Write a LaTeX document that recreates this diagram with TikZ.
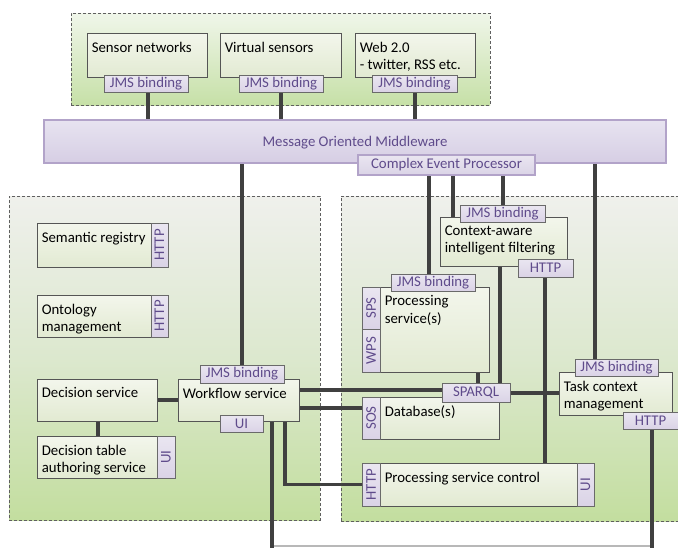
\documentclass[tikz,border=0pt]{standalone}
\usepackage{fontspec}
\setmainfont{Carlito}
\usetikzlibrary{fit}
\definecolor{grpB}{HTML}{C3DE9F}
\definecolor{grpM}{HTML}{DCE8CE}
\definecolor{grpT}{HTML}{EFF0EC}
\definecolor{topT}{HTML}{F0F6EA}
\definecolor{topB}{HTML}{C6E0A7}
\definecolor{gborder}{HTML}{5F5F5F}
\definecolor{bxT}{HTML}{F3F6EC}
\definecolor{bxB}{HTML}{E2EAD2}
\definecolor{bxD}{HTML}{555555}
\definecolor{tbT}{HTML}{EAE6F1}
\definecolor{tbB}{HTML}{DAD3E6}
\definecolor{tbD}{HTML}{6A6A6A}
\definecolor{purp}{HTML}{5F4B8B}
\definecolor{momT}{HTML}{E7E3F0}
\definecolor{momB}{HTML}{D6CEE4}
\definecolor{momD}{HTML}{B2A3C9}
\definecolor{cn}{HTML}{404040}
\definecolor{thin}{HTML}{B8B8B8}

\pgfdeclarelayer{grplayer}
\pgfdeclarelayer{linelayer}
\pgfsetlayers{grplayer,linelayer,main}

\newcommand\plainbox[6]{\node[boxst, fit={(#2,#3) (#4,#5)}] (#1) {};
  \node[txtst] (#1-t) at ([xshift=5pt,yshift=-9pt]#1.north west) {#6};}
\newcommand\tabbox[6]{\node[tabst, fit={(#2,#3) (#4,#5)}] (#1) {};
  \node[text=purp, inner sep=0pt] (#1-t) at (#1.center) {#6};}
\newcommand\vtabbox[6]{\node[tabst, fit={(#2,#3) (#4,#5)}] (#1) {};
  \node[rotate=90, text=purp, inner sep=0pt] (#1-t) at (#1.center) {#6};}

\begin{document}
\begin{tikzpicture}[x=1pt,y=-1pt,
  font=\fontsize{14.8}{17.5}\selectfont,
  grpst/.style={draw=gborder, dash pattern=on 3pt off 2pt, line width=0.8pt, inner sep=0pt, top color=grpT, bottom color=grpB, middle color=grpM},
  topgrp/.style={draw=gborder, dash pattern=on 3pt off 2pt, line width=0.8pt, inner sep=0pt, top color=topT, bottom color=topB},
  boxst/.style={draw=bxD, line width=0.8pt, inner sep=0pt, top color=bxT, bottom color=bxB},
  tabst/.style={draw=tbD, line width=0.8pt, inner sep=0pt, top color=tbT, bottom color=tbB},
  txtst/.style={anchor=north west, inner sep=0pt, align=left, text=black},
  conn/.style={draw=cn, line width=3.4pt},
  thinline/.style={draw=thin, line width=1.3pt}]
\useasboundingbox (0,0) rectangle (678,547);
\clip (0,0) rectangle (678,547);

% groups
\begin{pgfonlayer}{grplayer}
\node[topgrp, fit={(71,13) (490,105)}] (tg) {};
\node[grpst, fit={(9,196) (320,520)}] (lg) {};
\node[grpst, fit={(341,196) (690,521)}] (rg) {};
\end{pgfonlayer}

% middleware
\node[draw=momD, line width=1.2pt, top color=momT, bottom color=momB, inner sep=0pt, fit={(44,120) (666,163)}] (mom) {};
\node[text=purp, inner sep=0pt] (mom-t) at ([yshift=-1pt]mom.center) {Message Oriented Middleware};
\node[draw=momD, line width=1.2pt, top color=tbT, bottom color=tbB, inner sep=0pt, fit={(358,155) (535,175)}] (cep) {};
\node[text=purp, inner sep=0pt] (cep-t) at (cep.center) {Complex Event Processor};

% free ends
\coordinate (bl) at (272,552);
\coordinate (br) at (652,552);
\coordinate (gl) at (272,546);
\coordinate (gr) at (652,546);

% top boxes
\plainbox{sn}{87}{33}{207}{77}{Sensor networks}
\plainbox{vs}{220}{33}{341}{77}{Virtual sensors}
\plainbox{web}{355}{33}{475}{77}{Web 2.0\\- twitter, RSS etc.}
\tabbox{snj}{104}{75}{188}{92}{JMS binding}
\tabbox{vsj}{239}{75}{323}{92}{JMS binding}
\tabbox{webj}{372}{75}{457}{92}{JMS binding}

% left boxes
\plainbox{sr}{37}{223}{151}{267}{Semantic registry}
\vtabbox{srh}{151}{223}{168}{267}{HTTP}
\plainbox{om}{37}{295}{151}{337}{Ontology\\management}
\vtabbox{omh}{151}{295}{168}{337}{HTTP}
\plainbox{ds}{37}{379}{157}{421}{Decision service}
\plainbox{dt}{37}{436}{157}{478}{Decision table\\authoring service}
\vtabbox{dtu}{157}{436}{175}{478}{UI}
\plainbox{wf}{178}{379}{299}{421}{Workflow service}
\tabbox{wfj}{200}{365}{284}{383}{JMS binding}
\tabbox{wfu}{220}{415}{263}{432}{UI}

% right boxes
\plainbox{caf}{440}{217}{567}{266}{Context-aware\\intelligent filtering}
\tabbox{cafj}{460}{205}{545}{222}{JMS binding}
\tabbox{cafh}{518}{259}{573}{277}{HTTP}
\plainbox{ps}{380}{287}{489}{372}{Processing\\service(s)}
\vtabbox{sps}{362}{287}{380}{329}{SPS}
\vtabbox{wps}{362}{329}{380}{372}{WPS}
\tabbox{psj}{391}{274}{475}{291}{JMS binding}
\plainbox{db}{380}{397}{499}{439}{Database(s)}
\vtabbox{sos}{362}{397}{380}{439}{SOS}
\tabbox{sparql}{442}{383}{510}{402}{SPARQL}
\plainbox{tc}{559}{372}{672}{415}{Task context\\management}
\tabbox{tcj}{575}{359}{658}{376}{JMS binding}
\tabbox{tch}{623}{412}{678}{429}{HTTP}
\plainbox{psc}{380}{463}{577}{506}{Processing service control}
\vtabbox{psch}{362}{463}{380}{506}{HTTP}
\vtabbox{pscu}{577}{463}{594}{506}{UI}

% connectors
\begin{pgfonlayer}{linelayer}
\draw[thinline] (gl) -- (gr);
\draw[conn] (snj.south -| 148,0) -- (mom.north -| 148,0);
\draw[conn] (vsj.south -| 281,0) -- (mom.north -| 281,0);
\draw[conn] (webj.south -| 415,0) -- (mom.north -| 415,0);
\draw[conn] (mom.south -| 242,0) -- (wfj.north -| 242,0);
\draw[conn] (cep.south -| 429,0) -- (psj.north -| 429,0);
\draw[conn] (cep.south -| 453,0) -- (caf.north -| 453,0);
\draw[conn] (cep.south -| 503,0) -- (cafj.north -| 503,0);
\draw[conn] (mom.south -| 595,0) -- (tcj.north -| 595,0);
\draw[conn] (ds.east |- 0,400) -- (wf.west |- 0,400);
\draw[conn] (ds.south -| 98,0) -- (dt.north -| 98,0);
\draw[conn] (wf.east |- 0,390) -- (sparql.west |- 0,390);
\draw[conn] (wf.east |- 0,408) -- (sos.west |- 0,408);
\draw[conn] (wf.south -| 285,0) |- (psch.west);
\draw[conn] (wf.south -| 272,0) -- (bl);
\draw[conn] (caf.south -| 500,0) -- (sparql.north -| 500,0);
\draw[conn] (ps.south -| 478,0) -- (sparql.north -| 478,0);
\draw[conn] (cafh.south -| 545,0) -- (psc.north -| 545,0);
\draw[conn] (sparql.east |- 0,393) -- (tc.west |- 0,393);
\draw[conn] (tch.south -| 652,0) -- (br);
\end{pgfonlayer}
\end{tikzpicture}
\end{document}
